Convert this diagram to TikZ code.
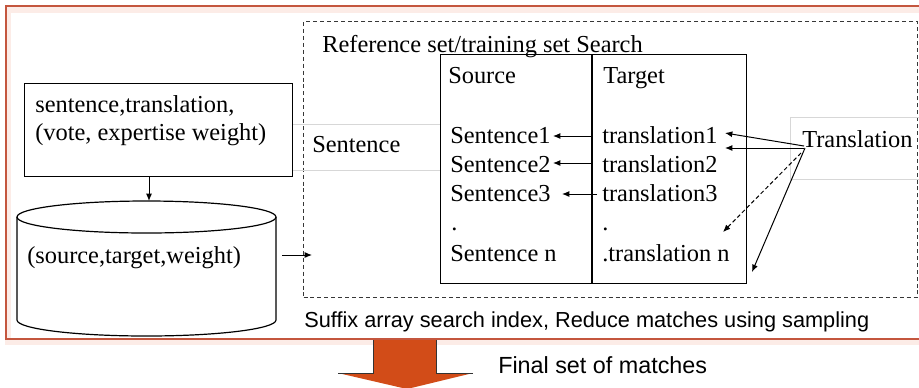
\documentclass[tikz,border=0pt]{standalone}
\usepackage{fontspec}
\setmainfont{Liberation Serif}
\setsansfont{Liberation Sans}
\usetikzlibrary{arrows.meta}
\definecolor{framered}{RGB}{196,86,62}
\definecolor{framepink}{RGB}{252,236,231}
\definecolor{arroworange}{RGB}{210,76,24}
\definecolor{rulegray}{RGB}{215,215,215}
\definecolor{dashgray}{RGB}{55,55,55}

\begin{document}
\begin{tikzpicture}[x=0.75pt,y=-0.75pt,
  lbl/.style={anchor=base west,inner sep=0pt,font=\fontsize{18.3}{22}\selectfont},
  note/.style={anchor=base west,inner sep=0pt,font=\sffamily\fontsize{16.3}{20}\selectfont},
  bignote/.style={anchor=base west,inner sep=0pt,font=\sffamily\fontsize{17.5}{21}\selectfont},
  link/.style={-{Latex[length=5.5pt,width=4.5pt]},line width=0.75pt},
  box/.style={draw=black,line width=0.9pt,anchor=north west,inner sep=0pt},
  thinrule/.style={draw=rulegray,line width=0.6pt},
  searcharea/.style={draw=dashgray,line width=0.75pt,dash pattern=on 3pt off 2.2pt,anchor=north west,inner sep=0pt}
]
\useasboundingbox (0,0) rectangle (919,387);
\clip (0,0) rectangle (919,387);
\fill[white] (0,0) rectangle (919,387);

% outer frame with its soft glow
\draw[framepink,line width=4.5pt] (8,10) rectangle (940,342);
\draw[framered,line width=1pt] (6,6) rectangle (940,339);

% search area
\node[searcharea,minimum width=460.5pt,minimum height=207pt] (area) at (303,21) {};
\node[lbl] (areatitle) at (322,52) {Reference set/training set Search};

% query strips
\draw[thinrule] (292,124) -- (440,124);
\draw[thinrule] (292,170) -- (440,170);
\node[lbl] (qsent) at (312,152) {Sentence};
\draw[thinrule] (925,117) -- (790,117) -- (790,179) -- (925,179);
\node[lbl] (qtrans) at (802,147) {Translation};

% source / target table
\node[box,minimum width=229.5pt,minimum height=171.75pt] (table) at (440,54) {};
\draw[line width=0.9pt] (592,54) -- (592,283);
\node[lbl] (hsrc) at (448,83) {Source};
\node[lbl] (htgt) at (603,83) {Target};
\node[lbl] (s1) at (450,143) {Sentence1};
\node[lbl] (s2) at (450,172) {Sentence2};
\node[lbl] (s3) at (450,201) {Sentence3};
\node[lbl] (sdot) at (451,230) {.};
\node[lbl] (sn) at (450,261) {Sentence n};
\node[lbl] (t1) at (602,143) {translation1};
\node[lbl] (t2) at (602,172) {translation2};
\node[lbl] (t3) at (602,201) {translation3};
\node[lbl] (tdot) at (602,230) {.};
\node[lbl] (tn) at (602,261) {.translation n};

% links between the columns
\coordinate (t1l) at (592,136);
\coordinate (t2l) at (592,163);
\coordinate (t3l) at (597,194);
\coordinate (s1r) at (553,136);
\coordinate (s2r) at (553,163);
\coordinate (s3r) at (562,194);
\draw[link] (t1l) -- (s1r);
\draw[link] (t2l) -- (s2r);
\draw[link] (t3l) -- (s3r);

% links from the translation query
\coordinate (qa) at (804,146);
\coordinate (qb) at (804,148);
\coordinate (qc) at (801,153);
\coordinate (qd) at (805,148);
\coordinate (h1) at (725,133);
\coordinate (h2) at (725,148);
\coordinate (h3) at (723,232);
\coordinate (h4) at (752,272);
\draw[link] (qa) -- (h1);
\draw[link] (qb) -- (h2);
\draw[link,dash pattern=on 3pt off 2pt] (qc) -- (h3);
\draw[link] (qd) -- (h4);

% input box
\node[box,minimum width=201pt,minimum height=69.75pt] (input) at (24,83) {};
\node[lbl] (in1) at (35,112) {sentence,translation,};
\node[lbl] (in2) at (35,140) {(vote, expertise weight)};

% database cylinder
\draw[line width=0.9pt,fill=white] (17,217) -- (17,320)
  arc[start angle=180,end angle=0,x radius=129.5,y radius=16] -- (276,217);
\draw[line width=0.9pt] (146.5,217) ellipse [x radius=129.5,y radius=16];
\node[lbl] (db) at (27,263) {(source,target,weight)};

\coordinate (inbot) at (149,176);
\coordinate (dbtop) at (149,201);
\draw[link] (inbot) -- (dbtop);
\coordinate (dbout) at (282,255);
\coordinate (areain) at (312,255);
\draw[link] (dbout) -- (areain);

% captions
\node[note] (suffix) at (304,327) {Suffix array search index, Reduce matches using sampling};
\node[bignote] (final) at (498,373) {Final set of matches};

% result arrow
\fill[arroworange] (373,340) -- (436,340) -- (436,373) -- (473,373) -- (407,389)
  -- (338,373) -- (373,373) -- cycle;
\draw[black!80,line width=0.6pt] (373,340) -- (373,373) -- (338,373);
\draw[black!80,line width=0.6pt] (436,340) -- (436,373) -- (473,373);
\end{tikzpicture}
\end{document}
